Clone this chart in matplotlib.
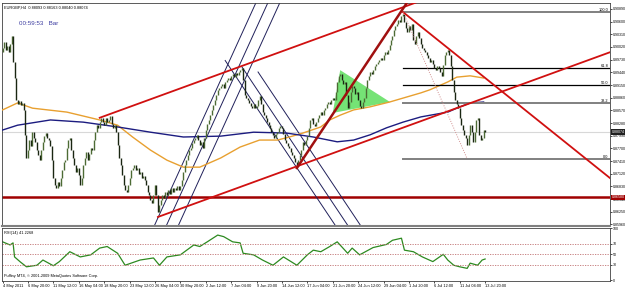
import numpy as np
import matplotlib.pyplot as plt
from matplotlib.transforms import blended_transform_factory

plt.rcParams['font.family'] = ['Liberation Sans', 'DejaVu Sans']

# EURGBP H4 closes, in pips above 0.8500
close_pips = [
    500, 513, 495, 504, 491, 509, 527, 468, 431, 381, 372, 378, 369, 374, 358, 301,
    248, 266, 289, 275, 307, 294, 285, 266, 255, 243, 266, 285, 298, 305, 294, 289,
    275, 243, 202, 186, 179, 193, 184, 202, 221, 239, 243, 271, 289, 294, 266, 248,
    232, 216, 225, 209, 186, 202, 232, 248, 262, 243, 257, 271, 266, 289, 307, 323,
    317, 330, 339, 330, 323, 339, 330, 335, 344, 326, 317, 323, 307, 278, 248, 232,
    209, 186, 175, 170, 186, 202, 221, 225, 232, 221, 225, 211, 216, 202, 207, 198,
    186, 170, 163, 152, 145, 163, 186, 163, 124, 140, 152, 163, 157, 170, 163, 175,
    166, 179, 170, 179, 175, 184, 175, 184, 198, 216, 232, 243, 255, 266, 271, 282,
    289, 294, 301, 289, 278, 285, 271, 294, 312, 326, 335, 346, 358, 369, 381, 392,
    404, 408, 413, 417, 408, 422, 426, 431, 426, 436, 440, 433, 443, 438, 445, 449,
    454, 426, 392, 385, 381, 374, 367, 362, 372, 362, 367, 381, 390, 372, 353, 346,
    339, 330, 323, 317, 307, 301, 294, 303, 307, 317, 321, 317, 303, 289, 282, 275,
    271, 262, 255, 248, 239, 230, 243, 255, 266, 285, 278, 289, 298, 317, 335, 339,
    326, 321, 330, 339, 346, 353, 346, 358, 362, 372, 376, 372, 381, 385, 381, 399,
    422, 436, 440, 426, 417, 422, 392, 362, 376, 399, 413, 408, 394, 399, 381, 367,
    362, 376, 385, 408, 426, 436, 445, 440, 449, 459, 463, 468, 472, 477, 472, 484,
    491, 486, 495, 507, 518, 527, 541, 550, 555, 564, 559, 573, 578, 559, 546, 536,
    550, 541, 555, 518, 509, 527, 536, 523, 509, 500, 495, 491, 484, 477, 468, 472,
    463, 454, 449, 459, 454, 445, 436, 461, 484, 491, 495, 484, 459, 426, 399, 381,
    372, 362, 339, 323, 312, 301, 294, 278, 301, 323, 307, 285, 307, 335, 339, 301,
    289, 294, 312, 307,
]

# moving averages, sampled along the drawn curves (bar, pips)
ma_orange_bars = [0, 10, 20, 43, 65, 77, 87, 99, 110, 121, 132, 146, 159, 172, 184, 192,
                  201, 213, 219, 226, 235, 246, 259, 271, 280, 286, 298, 304, 313, 322]
ma_orange_pips = [358, 374, 362, 353, 335, 323, 296, 266, 243, 227, 227, 248, 273, 289, 289, 296,
                  305, 319, 335, 346, 358, 365, 376, 388, 397, 404, 422, 433, 436, 431]
ma_blue_bars = [0, 10, 32, 54, 77, 99, 121, 146, 168, 190, 208, 224, 235, 246, 257, 268,
                280, 298, 304, 313, 322]
ma_blue_pips = [312, 323, 335, 330, 319, 307, 296, 298, 307, 305, 296, 285, 289, 301, 317, 330,
                342, 353, 362, 374, 376]

# RSI(14) sampled along the curve
rsi_bars = [0, 5, 7, 8, 12, 16, 23, 27, 34, 38, 45, 52, 59, 65, 70, 77, 82, 92, 101, 105,
            110, 119, 128, 132, 137, 144, 148, 154, 159, 161, 168, 174, 181, 188, 197, 204,
            208, 213, 219, 224, 231, 234, 239, 248, 257, 261, 267, 269, 275, 281, 288, 295,
            298, 302, 306, 311, 313, 318, 321, 323]
rsi_vals = [74, 68, 72, 45, 35, 26, 29, 39, 28, 36, 55, 45, 49, 62, 65, 52, 29, 39, 43, 29,
            45, 49, 68, 65, 74, 87, 84, 74, 72, 52, 49, 39, 29, 45, 29, 49,
            58, 55, 65, 74, 52, 62, 49, 63, 69, 77, 81, 58, 55, 45, 36, 50,
            39, 29, 26, 23, 33, 29, 39, 41]

time_labels = ["4 May 2011", "6 May 20:00", "11 May 12:00", "16 May 04:00", "18 May 20:00",
               "23 May 12:00", "26 May 04:00", "30 May 20:00", "2 Jun 12:00", "7 Jun 04:00",
               "9 Jun 20:00", "14 Jun 12:00", "17 Jun 04:00", "21 Jun 20:00", "24 Jun 12:00",
               "29 Jun 04:00", "1 Jul 20:00", "6 Jul 12:00", "11 Jul 04:00", "13 Jul 20:00"]
bars_per_label = 17

price_ticks = [0.85960 + 0.0029 * k for k in range(18)]
support_price = 0.86580
bid_price = 0.88074

# drawn objects: (bar, price) anchors
chan_lo = [(104, 0.86130), (386.5, 0.89650)]
chan_hi_start = (65, 0.88400)
steep_red = [(197, 0.87250), (252.7, 0.90110)]
desc_red = [(268, 0.90820), (406.6, 0.87020)]
fib_a = (268, 0.90825)
fib_b = (311, 0.87460)
fib_levels = [1.0, 0.618, 0.5, 0.382, 0.0]
fib_names = ["100.0", "61.8", "50.0", "38.2", "0.0"]
triangle = [(226, 0.89490), (221, 0.88510), (259.4, 0.88760)]
# rising fork: three parallels, (bar at bottom edge, bar at top edge)
fork_up = [(101.5, 169.5), (109.5, 177.5), (117.5, 185.5)]
# falling fork: three parallels starting at (bar, price), common slope
fork_dn_start = [(149.0, 0.89711), (160.3, 0.89560), (171.0, 0.89448)]
fork_dn_slope = -0.000512

close = 0.85 + np.array(close_pips) / 1e4
opn = np.r_[0.8990, close[:-1]]
n = len(close)
bars = np.arange(n)

fig = plt.figure(figsize=(6.25, 2.89), dpi=100)
ax = fig.add_axes([2 / 625, 1 - 226 / 289, 608 / 625, 223 / 289])
rax = fig.add_axes([2 / 625, 1 - 281 / 289, 608 / 625, 53 / 289], sharex=ax)

xmin, xmax = -0.4, 406.6
ymin, ymax = 0.85923, 0.91027
ax.set_xlim(xmin, xmax)
ax.set_ylim(ymin, ymax)

def ray(p1, p2, **kw):
    s = (p2[1] - p1[1]) / (p2[0] - p1[0])
    ax.plot([p1[0], xmax], [p1[1], p1[1] + s * (xmax - p1[0])], **kw)

# horizontal lines
ax.axhline(support_price, color='#a00000', lw=1.8, zorder=2)
ax.axhline(bid_price, color='#d8d8d8', lw=0.8, zorder=1)

# moving averages
ax.plot(ma_orange_bars, 0.85 + np.array(ma_orange_pips) / 1e4, color='#e8a030', lw=1, zorder=3)
ax.plot(ma_blue_bars, 0.85 + np.array(ma_blue_pips) / 1e4, color='#1c1c80', lw=1, zorder=3)

# pitchfork lines
for b0, b1 in fork_up:
    ax.plot([b0, b1], [ymin, ymax], color='#20205a', lw=0.7, zorder=2)
for bx, by in fork_dn_start:
    ax.plot([bx, bx + 140], [by, by + fork_dn_slope * 140], color='#20205a', lw=0.7, zorder=2)

# green triangle
ax.fill([p[0] for p in triangle], [p[1] for p in triangle], color='#66e066', alpha=0.9, zorder=1, lw=0)

# candles
up = close >= opn
for mask, col in [(up, '#4d6b35'), (~up, '#1a2612')]:
    lo = np.minimum(opn, close)[mask]
    hi = np.maximum(opn, close)[mask]
    ax.vlines(bars[mask], lo - 0.00004, hi + 0.00004, color=col, lw=1.0, zorder=4)

# red trend lines
ray(*chan_lo, color='#d01010', lw=1.3, zorder=5)
s = (chan_lo[1][1] - chan_lo[0][1]) / (chan_lo[1][0] - chan_lo[0][0])
ax.plot([chan_hi_start[0], xmax], [chan_hi_start[1], chan_hi_start[1] + s * (xmax - chan_hi_start[0])],
        color='#d01010', lw=1.3, zorder=5)
ray(*steep_red, color='#a01010', lw=1.8, zorder=5)
ray(*desc_red, color='#d01010', lw=1.3, zorder=5)

# fibonacci
ax.plot([fib_a[0], fib_b[0]], [fib_a[1], fib_b[1]], color='#d09090', lw=0.7, ls=(0, (1, 1.5)), zorder=5)
for lv, name in zip(fib_levels, fib_names):
    p = fib_b[1] + lv * (fib_a[1] - fib_b[1])
    heavy = lv in (1.0, 0.382, 0.0)
    ax.plot([fib_a[0], xmax], [p, p], color='#808080' if heavy else '#000000',
            lw=1.4 if heavy else 0.9, zorder=3)
    ax.text(xmax - 1, p, name, fontsize=2.8, ha='right', va='bottom', zorder=6)

# price axis
ax.yaxis.tick_right()
ax.set_yticks(price_ticks)
ax.set_yticklabels([f"{p:.5f}" for p in price_ticks])
ax.tick_params(axis='y', labelsize=2.6, length=1.5, width=0.5, pad=0.8)
ax.tick_params(axis='x', bottom=False, labelbottom=False)
tr = blended_transform_factory(ax.transAxes, ax.transData)
ax.text(1.0025, support_price, f"{support_price:.5f}", transform=tr, fontsize=2.6, color='white',
        va='center', ha='left', bbox=dict(boxstyle='square,pad=0.2', fc='#a00000', ec='none'), zorder=7)
ax.text(1.0025, bid_price, f"{bid_price:.5f}", transform=tr, fontsize=2.6, color='white',
        va='center', ha='left', bbox=dict(boxstyle='square,pad=0.2', fc='#202020', ec='none'), zorder=7)

ax.text(0.003, 0.99, "EURGBP,H4  0.88093 0.88163 0.88040 0.88074", transform=ax.transAxes,
        fontsize=2.8, va='top', ha='left')
ax.text(0.028, 0.91, "00:59:53   Bar", transform=ax.transAxes, fontsize=4.5, color='#3c3ca0',
        va='center', ha='left')

# RSI panel
rax.set_ylim(-1.3, 100.6)
rax.plot(rsi_bars, rsi_vals, color='#2d8a20', lw=0.9)
for lv in (30, 50, 70):
    rax.axhline(lv, color='#c07070', lw=0.6, ls=(0, (1.5, 1.5)))
rax.yaxis.tick_right()
rax.set_yticks([0, 30, 50, 70, 100])
rax.tick_params(axis='y', labelsize=2.6, length=1.5, width=0.5, pad=0.8)
rax.set_xticks(np.arange(len(time_labels)) * bars_per_label)
rax.set_xticklabels(time_labels, ha='left')
rax.tick_params(axis='x', labelsize=2.8, length=1.5, width=0.5, pad=0.8)
rax.text(0.003, 0.95, "RSI(14) 41.2268", transform=rax.transAxes, fontsize=2.8, va='top')
rax.text(0.003, 0.05, "Puffiny MT4, \u00a9 2001-2009 MetaQuotes Software Corp.", transform=rax.transAxes,
         fontsize=2.8, va='bottom')

for a in (ax, rax):
    for sp in a.spines.values():
        sp.set_linewidth(0.6)
        sp.set_color('#404040')
ax.spines['bottom'].set_linewidth(1.5)
ax.spines['bottom'].set_color('#808080')

fig.savefig('out.png', dpi=100)
